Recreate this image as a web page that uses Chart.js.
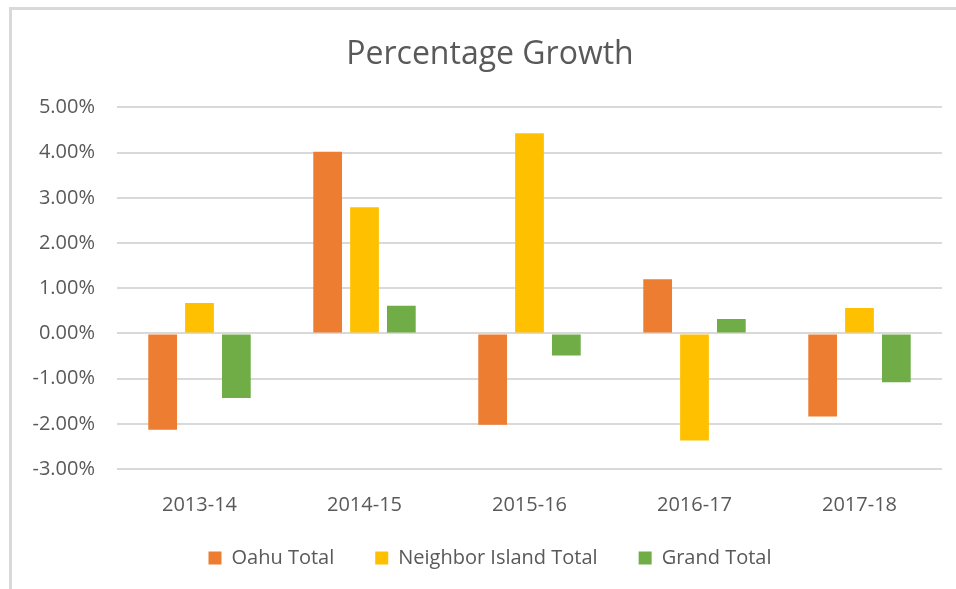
<!DOCTYPE html>
<html>
<head>
<meta charset="utf-8">
<script src="https://cdn.jsdelivr.net/npm/chart.js@4"></script>
<style>
  html, body { margin: 0; padding: 0; background: #fff; }
  #wrap { position: relative; width: 956px; height: 589px; overflow: hidden; }
  #frame { position: absolute; left: 9px; top: 7px; width: 960px; height: 600px;
           border-left: 3px solid #d9d9d9; border-top: 3px solid #d9d9d9; pointer-events: none; }
  canvas { position: absolute; left: 0; top: 0; }
</style>
</head>
<body>
<div id="wrap">
  <canvas id="c" width="956" height="589"></canvas>
  <div id="frame"></div>
</div>
<script>
const categories = ["2013-14", "2014-15", "2015-16", "2016-17", "2017-18"];
const oahuTotal = [-2.13, 4.02, -2.02, 1.20, -1.84];
const neighborIslandTotal = [0.67, 2.79, 4.43, -2.37, 0.56];
const grandTotal = [-1.43, 0.61, -0.49, 0.32, -1.08];
const seriesNames = ["Oahu Total", "Neighbor Island Total", "Grand Total"];
const titleText = "Percentage Growth";

const FONT = "'Open Sans', sans-serif";
const TEXT = "#595959";

// widen the label clip boxes of the axes after layout so tick labels are not cut
const unclipLabels = {
  id: "unclipLabels",
  afterLayout(chart) {
    const x = chart.scales.x;
    x.bottom = chart.height;
    x.height = x.bottom - x.top;
    const y = chart.scales.y;
    y.left = 0;
    y.width = y.right - y.left;
  }
};

new Chart(document.getElementById("c"), {
  type: "bar",
  data: {
    labels: categories,
    datasets: [
      { label: seriesNames[0], data: oahuTotal, backgroundColor: "#ED7D31" },
      { label: seriesNames[1], data: neighborIslandTotal, backgroundColor: "#FFC000" },
      { label: seriesNames[2], data: grandTotal, backgroundColor: "#70AD47" }
    ]
  },
  plugins: [unclipLabels],
  options: {
    responsive: false,
    animation: false,
    devicePixelRatio: 1,
    datasets: { bar: { categoryPercentage: 0.67, barPercentage: 0.78, borderWidth: 0 } },
    layout: { padding: { top: 0, left: 38, right: 14, bottom: 11 } },
    plugins: {
      title: {
        display: true,
        text: titleText,
        color: TEXT,
        font: { family: FONT, size: 32, weight: "normal" },
        padding: { top: 36, bottom: 33 }
      },
      legend: {
        position: "bottom",
        labels: {
          color: TEXT,
          font: { family: FONT, size: 20 },
          boxWidth: 13,
          boxHeight: 13,
          padding: 41
        }
      },
      tooltip: { enabled: false }
    },
    scales: {
      x: {
        grid: { display: false, drawTicks: false },
        border: { display: false },
        ticks: { color: TEXT, font: { family: FONT, size: 20 }, padding: 24 },
        afterFit: s => { s.height = s.height - 34; }
      },
      y: {
        min: -3,
        max: 5,
        ticks: {
          stepSize: 1,
          color: TEXT,
          font: { family: FONT, size: 20 },
          padding: 22,
          callback: v => v.toFixed(2) + "%"
        },
        grid: { color: "#d9d9d9", lineWidth: 2, drawTicks: false },
        border: { display: false },
        afterFit: s => { s.width = 79; }
      }
    }
  }
});
</script>
</body>
</html>
